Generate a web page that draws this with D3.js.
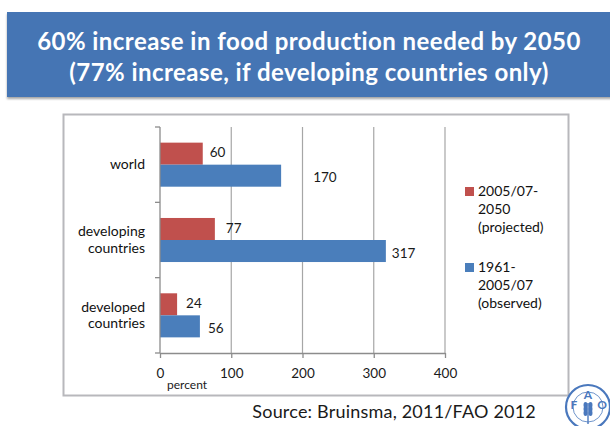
<!DOCTYPE html>
<html>
<head>
<meta charset="utf-8">
<script src="https://cdn.jsdelivr.net/npm/d3@7"></script>
<style>
  html, body { margin: 0; padding: 0; background: #fff; }
  svg { display: block; font-family: Lato, "Open Sans", sans-serif; }
</style>
</head>
<body>
<svg id="chart" width="610" height="426"></svg>
<script>
// ---- data ----
const categories = ["world", "developing countries", "developed countries"];
const seriesNames = ["2005/07-2050 (projected)", "1961-2005/07 (observed)"];
const projected = [60, 77, 24];   // % increase 2005/07-2050
const observed = [170, 317, 56];  // % increase 1961-2005/07
const xTicks = [0, 100, 200, 300, 400];
const titleLines = [
  "60% increase in food production needed by 2050",
  "(77% increase, if developing countries only)"
];
const legendLines = [
  ["2005/07-", "2050", "(projected)"],
  ["1961-", "2005/07", "(observed)"]
];
const sourceText = "Source: Bruinsma, 2011/FAO 2012";

// ---- drawing ----
const colors = ["#c0504d", "#4a7ebb"];
const values = [projected, observed];
// horizontal nudge of each value label past its bar end, per series then category
const labelShift = [[7, 11, 9], [32, 6, 8]];

const svg = d3.select("#chart");

// title banner
const defs = svg.append("defs");
const f = defs.append("filter").attr("id", "shadow").attr("x", "-5%").attr("y", "-10%").attr("width", "110%").attr("height", "130%");
f.append("feDropShadow").attr("dx", 0).attr("dy", 2).attr("stdDeviation", 1.2).attr("flood-color", "#000").attr("flood-opacity", 0.35);

svg.append("rect")
  .attr("x", 7).attr("y", 12).attr("width", 610).attr("height", 85)
  .attr("fill", "#4574b4").attr("filter", "url(#shadow)");

svg.append("g").selectAll("text").data(titleLines).join("text")
  .attr("x", 309).attr("y", (d, i) => 50 + i * 31)
  .attr("text-anchor", "middle")
  .attr("fill", "#fff").attr("font-weight", "bold").attr("font-size", 24)
  .attr("letter-spacing", 0.45)
  .text(d => d);

// chart frame
svg.append("rect")
  .attr("x", 63.5).attr("y", 114.5).attr("width", 505).attr("height", 281)
  .attr("fill", "#fff").attr("stroke", "#b8b8bc").attr("stroke-width", 2);

// scales
const x = d3.scaleLinear().domain([0, 400]).range([160, 445]);
const y = d3.scaleBand().domain(categories).range([127, 353]).paddingInner(0).paddingOuter(0);
const ySub = d3.scaleBand().domain(seriesNames).range([0, y.bandwidth()]).paddingInner(0).paddingOuter(0.71);

// vertical gridlines
svg.append("g").selectAll("line").data(xTicks.filter(t => t > 0)).join("line")
  .attr("x1", d => x(d)).attr("x2", d => x(d))
  .attr("y1", y.range()[0]).attr("y2", y.range()[1])
  .attr("stroke", "#a6a6a6").attr("stroke-width", 1.2);

// bars
const barG = svg.append("g");
seriesNames.forEach((s, si) => {
  barG.append("g").selectAll("rect").data(categories).join("rect")
    .attr("x", x(0))
    .attr("y", c => y(c) + ySub(s))
    .attr("width", (c, ci) => x(values[si][ci]) - x(0))
    .attr("height", ySub.bandwidth())
    .attr("fill", colors[si]);
});

// value labels
seriesNames.forEach((s, si) => {
  svg.append("g").selectAll("text").data(categories).join("text")
    .attr("x", (c, ci) => x(values[si][ci]) + labelShift[si][ci])
    .attr("y", c => y(c) + ySub(s) + ySub.bandwidth() / 2 + (si === 0 ? -1 : 2))
    .attr("dy", "0.35em")
    .attr("font-size", 13.5).attr("fill", "#1a1a1a")
    .text((c, ci) => values[si][ci]);
});

// x axis
const xAxis = d3.axisBottom(x).tickValues(xTicks).tickSize(5).tickSizeOuter(0).tickPadding(10);
const gx = svg.append("g").attr("transform", `translate(0,${y.range()[1]})`).call(xAxis);
gx.select(".domain").attr("stroke", "#8c8c8c").attr("stroke-width", 1.3);
gx.selectAll(".tick line").attr("stroke", "#8c8c8c").attr("stroke-width", 1.3);
gx.selectAll(".tick text").attr("font-size", 13.5).attr("fill", "#1a1a1a").attr("font-family", "Lato, sans-serif");

svg.append("text").attr("x", 167).attr("y", 389)
  .attr("font-size", 12).attr("fill", "#1a1a1a").text("percent");

// y axis: ticks at band boundaries
const boundaries = categories.map(c => y(c)).concat([y.range()[1]]);
svg.append("line").attr("x1", x(0)).attr("x2", x(0))
  .attr("y1", y.range()[0]).attr("y2", y.range()[1])
  .attr("stroke", "#8c8c8c").attr("stroke-width", 1.3);
svg.append("g").selectAll("line").data(boundaries).join("line")
  .attr("x1", x(0) - 5).attr("x2", x(0))
  .attr("y1", d => d).attr("y2", d => d)
  .attr("stroke", "#8c8c8c").attr("stroke-width", 1.3);

// category labels
const catG = svg.append("g").selectAll("text").data(categories).join("text")
  .attr("text-anchor", "end")
  .attr("font-size", 14).attr("fill", "#111");
catG.each(function (c) {
  const words = c.split(" ");
  const cy = y(c) + y.bandwidth() / 2;
  const t = d3.select(this);
  words.forEach((w, i) => {
    t.append("tspan")
      .attr("x", 145)
      .attr("y", cy + (i - (words.length - 1) / 2) * 16.5 + 4.5)
      .text(w);
  });
});

// legend
const lg = svg.append("g");
legendLines.forEach((lines, si) => {
  const top = 187 + si * 76;
  lg.append("rect").attr("x", 465).attr("y", top).attr("width", 9).attr("height", 9).attr("fill", colors[si]);
  lg.append("g").selectAll("text").data(lines).join("text")
    .attr("x", 478).attr("y", (d, i) => top + 9 + i * 18)
    .attr("font-size", 14).attr("fill", "#111")
    .text(d => d);
});

// source
svg.append("text").attr("x", 536).attr("y", 418)
  .attr("text-anchor", "end").attr("font-size", 18).attr("fill", "#1a1a1a")
  .attr("letter-spacing", 0.2)
  .text(sourceText);

// FAO emblem
const logo = svg.append("g").attr("transform", "translate(588,407)");
const blue = "#4a78bd";
logo.append("circle").attr("r", 22).attr("fill", "#fff").attr("stroke", blue).attr("stroke-width", 2.2);
logo.append("circle").attr("r", 15).attr("fill", "none").attr("stroke", blue).attr("stroke-width", 0.8);
logo.append("text").attr("x", -14).attr("y", 2).attr("font-size", 12).attr("font-weight", "bold")
  .attr("fill", blue).attr("text-anchor", "middle").text("F");
logo.append("text").attr("x", 0).attr("y", -8).attr("font-size", 12).attr("font-weight", "bold")
  .attr("fill", blue).attr("text-anchor", "middle").text("A");
logo.append("text").attr("x", 14).attr("y", 2).attr("font-size", 12).attr("font-weight", "bold")
  .attr("fill", blue).attr("text-anchor", "middle").text("O");
// wheat ear
logo.append("line").attr("x1", 0).attr("x2", 0).attr("y1", -4).attr("y2", 17).attr("stroke", blue).attr("stroke-width", 1.4);
[-2, 2, 6].forEach(dy => {
  logo.append("ellipse").attr("cx", -2.5).attr("cy", dy).attr("rx", 2).attr("ry", 3).attr("fill", blue);
  logo.append("ellipse").attr("cx", 2.5).attr("cy", dy).attr("rx", 2).attr("ry", 3).attr("fill", blue);
});
</script>
</body>
</html>
